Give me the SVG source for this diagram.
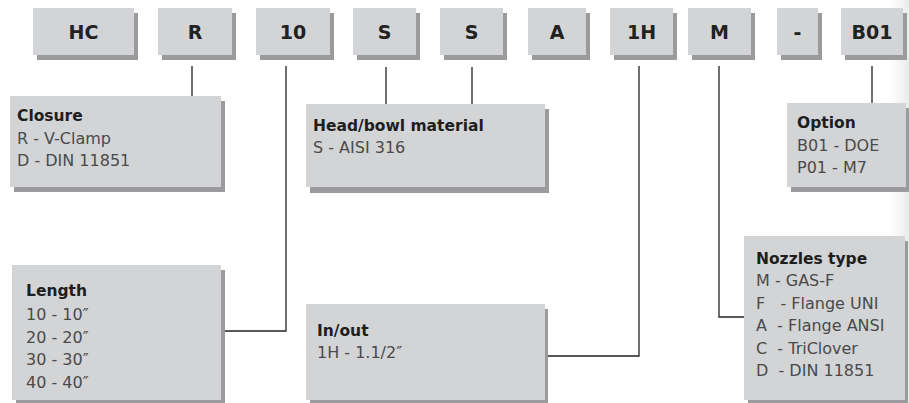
<svg xmlns="http://www.w3.org/2000/svg" width="909" height="403" viewBox="0 0 909 403">
<defs>
<linearGradient id="fade" x1="0" y1="0" x2="1" y2="0">
<stop offset="0" stop-color="#ffffff"/>
<stop offset="1" stop-color="#ebebeb"/>
</linearGradient>
<style>
.box{fill:#d3d4d6}
.sh{fill:#9b9b9d}
.code{font-family:"DejaVu Sans",sans-serif;font-weight:bold;font-size:19px;fill:#222;text-anchor:middle}
.hd{font-family:"DejaVu Sans",sans-serif;font-weight:bold;font-size:15.5px;fill:#1e1e1e}
.bd{font-family:"DejaVu Sans",sans-serif;font-size:16px;fill:#4a4a4a;white-space:pre}
.ln{fill:none;stroke:#222;stroke-width:1.3}
</style>
</defs>
<rect width="909" height="403" fill="#fff"/>
<rect x="890" y="0" width="19" height="403" fill="url(#fade)"/>
<g id="code-HC"><rect class="sh" x="37" y="13" width="101" height="47"/><rect class="box" x="33" y="8" width="101" height="47"/><text class="code" x="83.5" y="39">HC</text></g>
<g id="code-R"><rect class="sh" x="162" y="13" width="74" height="47"/><rect class="box" x="158" y="8" width="74" height="47"/><text class="code" x="195" y="39">R</text></g>
<g id="code-10"><rect class="sh" x="260" y="13" width="74" height="47"/><rect class="box" x="256" y="8" width="74" height="47"/><text class="code" x="293" y="39">10</text></g>
<g id="code-S1"><rect class="sh" x="357" y="13" width="63" height="47"/><rect class="box" x="353" y="8" width="63" height="47"/><text class="code" x="384.5" y="39">S</text></g>
<g id="code-S2"><rect class="sh" x="444" y="13" width="63" height="47"/><rect class="box" x="440" y="8" width="63" height="47"/><text class="code" x="471.5" y="39">S</text></g>
<g id="code-A"><rect class="sh" x="532" y="13" width="58" height="47"/><rect class="box" x="528" y="8" width="58" height="47"/><text class="code" x="557" y="39">A</text></g>
<g id="code-1H"><rect class="sh" x="614" y="13" width="63" height="47"/><rect class="box" x="610" y="8" width="63" height="47"/><text class="code" x="641.5" y="39">1H</text></g>
<g id="code-M"><rect class="sh" x="692" y="13" width="63" height="47"/><rect class="box" x="688" y="8" width="63" height="47"/><text class="code" x="719.5" y="39">M</text></g>
<g id="code-dash"><rect class="sh" x="781" y="13" width="41" height="47"/><rect class="box" x="777" y="8" width="41" height="47"/><text class="code" x="797.5" y="39">-</text></g>
<g id="code-B01"><rect class="sh" x="845" y="13" width="62" height="47"/><rect class="box" x="841" y="8" width="62" height="47"/><text class="code" x="872" y="39">B01</text></g>

<g id="connectors">
<path class="ln" d="M192 66V96"/>
<path class="ln" d="M286 66V331H222"/>
<path class="ln" d="M386 67V104"/>
<path class="ln" d="M472 67V104"/>
<path class="ln" d="M639 66V356H548"/>
<path class="ln" d="M719 66V317H744"/>
<path class="ln" d="M872 66V103"/>
</g>

<g id="closure"><rect class="sh" x="14" y="101" width="211" height="91"/><rect class="box" x="10" y="96" width="211" height="91"/>
<text class="hd" x="17" y="121">Closure</text>
<text class="bd" x="17" y="143.5">R - V-Clamp</text>
<text class="bd" x="17" y="166">D - DIN 11851</text></g>

<g id="material"><rect class="sh" x="310" y="109" width="239" height="84"/><rect class="box" x="306" y="104" width="239" height="83"/>
<text class="hd" x="313" y="131">Head/bowl material</text>
<text class="bd" x="313" y="153">S - AISI 316</text></g>

<g id="option"><rect class="sh" x="791" y="108" width="118" height="84"/><rect class="box" x="787" y="103" width="119" height="84"/>
<text class="hd" x="797" y="128">Option</text>
<text class="bd" x="797" y="151">B01 - DOE</text>
<text class="bd" x="797" y="173">P01 - M7</text></g>

<g id="length"><rect class="sh" x="16" y="270" width="209" height="135"/><rect class="box" x="12" y="265" width="209" height="135"/>
<text class="hd" x="26" y="296">Length</text>
<text class="bd" x="26" y="320">10 - 10″</text>
<text class="bd" x="26" y="342.5">20 - 20″</text>
<text class="bd" x="26" y="365">30 - 30″</text>
<text class="bd" x="26" y="387.5">40 - 40″</text></g>

<g id="inout"><rect class="sh" x="310" y="309" width="238" height="96"/><rect class="box" x="306" y="304" width="239" height="96"/>
<text class="hd" x="317" y="336">In/out</text>
<text class="bd" x="317" y="358">1H - 1.1/2″</text></g>

<g id="nozzles"><rect class="sh" x="748" y="241" width="160" height="164"/><rect class="box" x="744" y="236" width="161" height="164"/>
<text class="hd" x="756" y="264">Nozzles type</text>
<text class="bd" x="756" y="286">M - GAS-F</text>
<text class="bd" x="756" y="308.5">F   - Flange UNI</text>
<text class="bd" x="756" y="331">A  - Flange ANSI</text>
<text class="bd" x="756" y="353.5">C  - TriClover</text>
<text class="bd" x="756" y="376">D  - DIN 11851</text></g>
</svg>
